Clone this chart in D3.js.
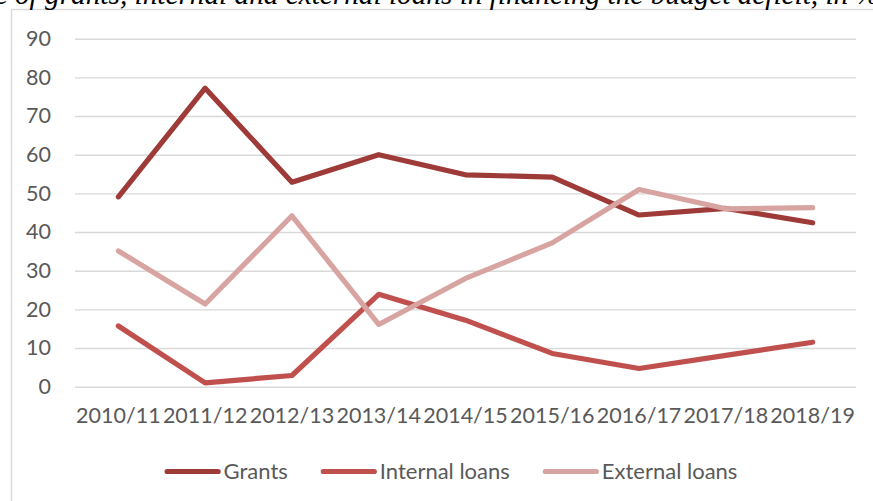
<!DOCTYPE html>
<html>
<head>
<meta charset="utf-8">
<script src="https://cdn.jsdelivr.net/npm/d3@7"></script>
<style>
  html, body { margin: 0; padding: 0; background: #ffffff; }
  svg { display: block; }
</style>
</head>
<body>
<svg id="chart" width="873" height="501"></svg>
<script>
// Fiscal years on the horizontal axis
const categories = ["2010/11", "2011/12", "2012/13", "2013/14", "2014/15", "2015/16", "2016/17", "2017/18", "2018/19"];

// Share of each source in financing the budget deficit, %
const grants        = [49.1, 77.2, 52.9, 60.0, 54.8, 54.2, 44.4, 46.1, 42.4];
const internalLoans = [15.7, 1.0, 2.9, 23.9, 17.2, 8.6, 4.7, 8.1, 11.5];
const externalLoans = [35.1, 21.4, 44.2, 16.1, 28.0, 37.2, 51.0, 46.0, 46.3];

const yTicks = [0, 10, 20, 30, 40, 50, 60, 70, 80, 90];

const seriesNames = ["Grants", "Internal loans", "External loans"];
const seriesColors = ["#9e3a37", "#c0504d", "#d8a4a2"];
const seriesValues = [grants, internalLoans, externalLoans];

const titleText = "Share of grants, internal and external loans in financing the budget deficit, in %";

const svg = d3.select("#chart");
const textColor = "#595959";
const gridColor = "#d9d9d9";
const font = "Lato, 'Open Sans', sans-serif";

const plot = { left: 75, right: 856, top: 38.7, bottom: 386.7 };

// Chart area frame (only the top and left edges fall inside the view)
svg.append("rect")
  .attr("x", 11.5).attr("y", 9.5)
  .attr("width", 1000).attr("height", 700)
  .attr("fill", "none")
  .attr("stroke", gridColor)
  .attr("stroke-width", 1.4);

// Caption above the chart: sized so that "of grants … in %" runs from x=15 to x=880
const title = svg.append("text")
  .attr("y", 4)
  .attr("font-family", "'Liberation Serif', 'Times New Roman', serif")
  .attr("font-style", "italic")
  .attr("font-size", 24)
  .attr("fill", "#000")
  .text(titleText);
{
  const n = title.node();
  const pre = n.getSubStringLength(0, 6);           // "Share "
  const full = n.getComputedTextLength();
  const scale = 865 / (full - pre);
  title.attr("font-size", 24 * scale);
  const pre2 = n.getSubStringLength(0, 6);
  title.attr("x", 15 - pre2);
}

const x = d3.scaleBand()
  .domain(categories)
  .range([plot.left, plot.right])
  .paddingInner(0).paddingOuter(0);
const cx = d => x(d) + x.bandwidth() / 2;

const y = d3.scaleLinear()
  .domain([0, 90])
  .range([plot.bottom, plot.top]);

// Horizontal gridlines and value labels
const yAxis = svg.append("g")
  .attr("transform", `translate(${plot.left},0)`)
  .call(d3.axisLeft(y)
    .tickValues(yTicks)
    .tickSize(-(plot.right - plot.left))
    .tickPadding(24)
    .tickFormat(d3.format("d")));
yAxis.select(".domain").remove();
yAxis.selectAll(".tick line")
  .attr("stroke", gridColor)
  .attr("stroke-width", 1.4);
yAxis.selectAll(".tick text")
  .attr("fill", textColor)
  .attr("font-family", font)
  .attr("font-size", 21.5);

// Category labels
const xAxis = svg.append("g")
  .attr("transform", `translate(0,${plot.bottom})`)
  .call(d3.axisBottom(x).tickSize(0).tickPadding(21));
xAxis.select(".domain").remove();
xAxis.selectAll(".tick text")
  .attr("fill", textColor)
  .attr("font-family", font)
  .attr("font-size", 21.5)
  .attr("dy", "0.71em");

// Series lines
const line = d3.line()
  .x((d, i) => cx(categories[i]))
  .y(d => y(d));

seriesValues.forEach((vals, k) => {
  svg.append("path")
    .datum(vals)
    .attr("d", line)
    .attr("fill", "none")
    .attr("stroke", seriesColors[k])
    .attr("stroke-width", 5.2)
    .attr("stroke-linecap", "round")
    .attr("stroke-linejoin", "round");
});

// Legend, centred below the axis
const legend = svg.append("g");
const legendY = 471.5;
const swatch = 56, swatchGap = 3, itemGap = 33;
let cursor = 0;
seriesNames.forEach((name, k) => {
  const g = legend.append("g").attr("transform", `translate(${cursor},0)`);
  g.append("line")
    .attr("x1", 2.5).attr("x2", swatch - 2.5)
    .attr("y1", legendY).attr("y2", legendY)
    .attr("stroke", seriesColors[k])
    .attr("stroke-width", 5.2)
    .attr("stroke-linecap", "round");
  const t = g.append("text")
    .attr("x", swatch + swatchGap)
    .attr("y", legendY)
    .attr("dy", "0.35em")
    .attr("fill", textColor)
    .attr("font-family", font)
    .attr("font-size", 22)
    .text(name);
  cursor += swatch + swatchGap + t.node().getComputedTextLength() + itemGap;
});
const legendWidth = cursor - itemGap;
legend.attr("transform", `translate(${451 - legendWidth / 2},0)`);
</script>
</body>
</html>
